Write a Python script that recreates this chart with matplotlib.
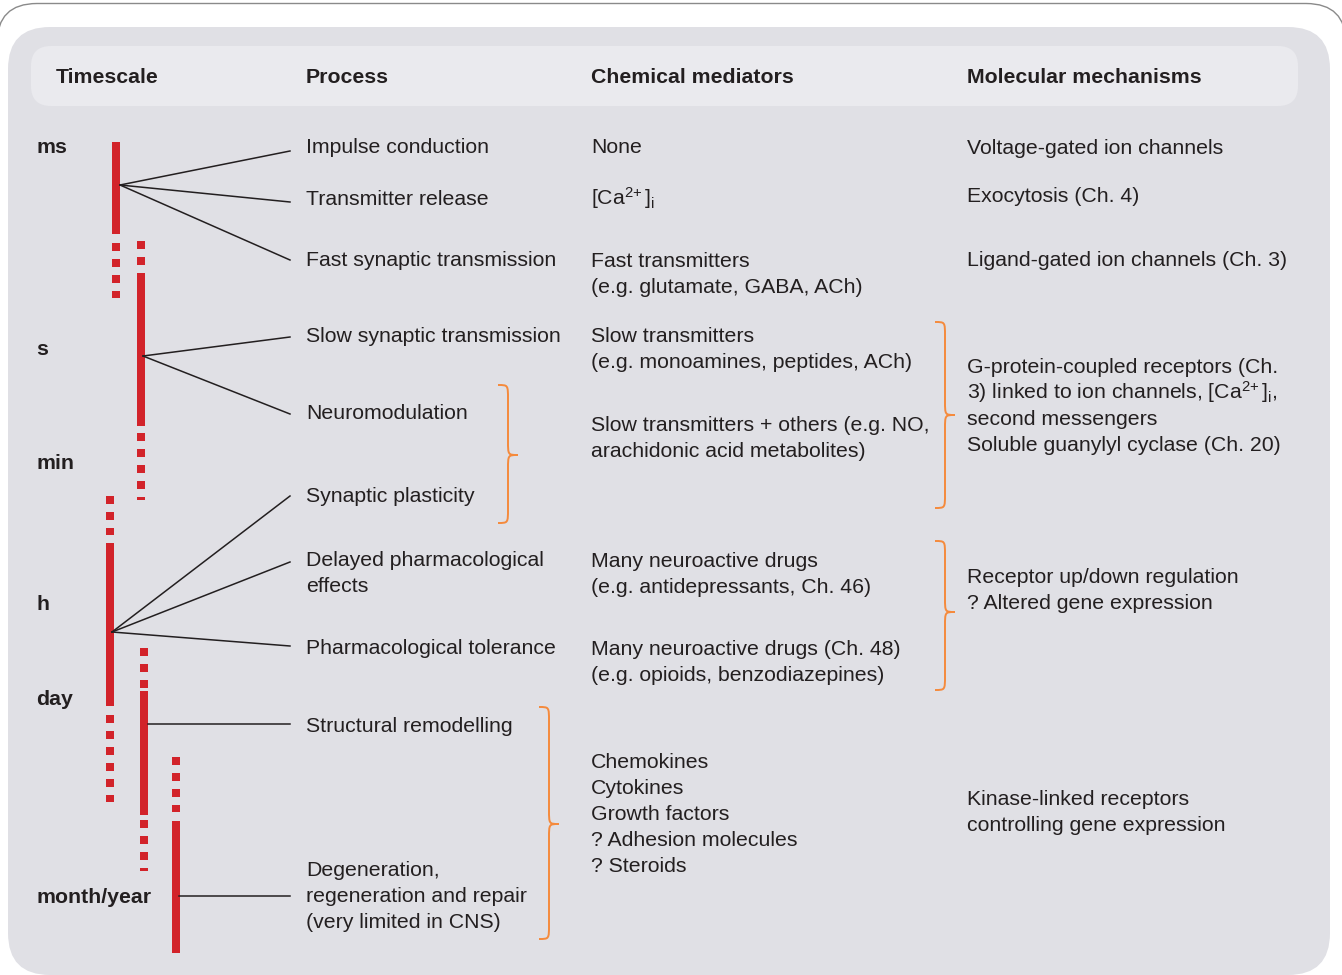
import matplotlib
matplotlib.use('Agg')
import matplotlib.pyplot as plt
from matplotlib.patches import FancyBboxPatch, PathPatch
from matplotlib.path import Path

plt.rcParams['font.family'] = ['Liberation Sans', 'DejaVu Sans']
plt.rcParams['mathtext.fontset'] = 'custom'
plt.rcParams['mathtext.rm'] = 'Liberation Sans'
plt.rcParams['mathtext.it'] = 'Liberation Sans:italic'
plt.rcParams['mathtext.bf'] = 'Liberation Sans:bold'
plt.rcParams['lines.scale_dashes'] = False

CA = r'[Ca$^{2\!+}$]$_\mathrm{i}$'

# ---- content ----
headers = ['Timescale', 'Process', 'Chemical mediators', 'Molecular mechanisms']
header_x = [56, 306, 591, 967]

timescales = ['ms', 's', 'min', 'h', 'day', 'month/year']
timescale_y = [146, 348, 462, 603, 698, 896]

processes = ['Impulse conduction', 'Transmitter release', 'Fast synaptic transmission',
             'Slow synaptic transmission', 'Neuromodulation', 'Synaptic plasticity',
             'Delayed pharmacological\neffects', 'Pharmacological tolerance',
             'Structural remodelling',
             'Degeneration,\nregeneration and repair\n(very limited in CNS)']
process_y = [146, 198, 259, 335, 412, 495, 559, 647, 725, 869]

mediators = ['None', CA, 'Fast transmitters\n(e.g. glutamate, GABA, ACh)',
             'Slow transmitters\n(e.g. monoamines, peptides, ACh)',
             'Slow transmitters + others (e.g. NO,\narachidonic acid metabolites)',
             'Many neuroactive drugs\n(e.g. antidepressants, Ch. 46)',
             'Many neuroactive drugs (Ch. 48)\n(e.g. opioids, benzodiazepines)',
             'Chemokines\nCytokines\nGrowth factors\n? Adhesion molecules\n? Steroids']
mediator_y = [146, 198, 260, 335, 424, 560, 648, 761]

mechanisms = ['Voltage-gated ion channels', 'Exocytosis (Ch. 4)',
              'Ligand-gated ion channels (Ch. 3)',
              'G-protein-coupled receptors (Ch.\n3) linked to ion channels, ' + CA +
              ',\nsecond messengers\nSoluble guanylyl cyclase (Ch. 20)',
              'Receptor up/down regulation\n? Altered gene expression',
              'Kinase-linked receptors\ncontrolling gene expression']
mechanism_y = [147, 195, 259, 366, 576, 798]

# timescale bars: x, dashed top, solid part, dashed bottom, hub of the fan, fan targets
bar_x = [116, 141, 110, 144, 176]
bar_dash_top = [None, (241, 265), (496, 535), (648, 688), (757, 812)]
bar_solid = [(142, 234), (273, 426), (543, 706), (691, 815), (821, 953)]
bar_dash_bottom = [(243, 298), (433, 500), (715, 802), (820, 871), None]
bar_hub = [(120, 185), (143, 356), (112, 632), (148, 724), (179, 896)]
bar_targets = [[151, 202, 260], [337, 414], [496, 562, 646], [724], [896]]
fan_end_x = 290

# curly braces: left x, top, bottom, tip
braces = [(498, 385, 523, 455), (935, 322, 508, 415),
          (935, 541, 690, 612), (539, 707, 939, 824)]

TXT = '#231f20'
RED = '#d2232a'
ORANGE = '#f58a3c'
FS = 15.3
LINE_GAP = 26
BASE = 6.8  # centre of capitals -> baseline

fig = plt.figure(figsize=(13.42, 9.75), dpi=100)
ax = fig.add_axes([0, 0, 1, 1])
ax.set_xlim(0, 1342)
ax.set_ylim(975, 0)
ax.axis('off')

# frames
ax.add_patch(FancyBboxPatch((-3, 3.5), 1349, 1100, boxstyle='round,pad=0,rounding_size=40',
                            fc='white', ec='#8a8a8a', lw=1))
ax.add_patch(FancyBboxPatch((8, 27), 1322, 948, boxstyle='round,pad=0,rounding_size=42',
                            fc='#e0e0e5', ec='none'))
ax.add_patch(FancyBboxPatch((31, 46), 1267, 60, boxstyle='round,pad=0,rounding_size=20',
                            fc='#eaeaee', ec='none'))

for h, x in zip(headers, header_x):
    ax.text(x, 76 + BASE, h, fontsize=FS, fontweight='bold', color=TXT, va='baseline')

for t, y in zip(timescales, timescale_y):
    ax.text(36, y + BASE, t, fontsize=FS, fontweight='bold', color=TXT, va='baseline')


def put_lines(x, y, s):
    for i, line in enumerate(s.split('\n')):
        ax.text(x, y + BASE + i * LINE_GAP, line, fontsize=FS, color=TXT, va='baseline')


for s, y in zip(processes, process_y):
    put_lines(306, y, s)
for s, y in zip(mediators, mediator_y):
    put_lines(591, y, s)
for s, y in zip(mechanisms, mechanism_y):
    put_lines(967, y, s)

# red bars
bw = 8 * 0.72
for i in range(len(bar_x)):
    x = bar_x[i]
    s0, s1 = bar_solid[i]
    ax.plot([x, x], [s0, s1], color=RED, lw=bw, solid_capstyle='butt')
    for seg in (bar_dash_top[i], bar_dash_bottom[i]):
        if seg is not None:
            ax.plot([x, x], [seg[0], seg[1]], color=RED, lw=bw, dash_capstyle='butt',
                    linestyle=(0, (8 * 0.72, 8 * 0.72)))
    hx, hy = bar_hub[i]
    for ty in bar_targets[i]:
        ax.plot([hx, fan_end_x], [hy, ty], color=TXT, lw=1.1)


def brace(x0, yt, yb, ytip, w=20, r=14):
    xm = x0 + w / 2
    verts = [(x0, yt), (xm, yt), (xm, yt), (xm, yt + r),
             (xm, ytip - r),
             (xm, ytip), (xm, ytip), (x0 + w, ytip),
             (xm, ytip), (xm, ytip), (xm, ytip + r),
             (xm, yb - r),
             (xm, yb), (xm, yb), (x0, yb)]
    codes = [Path.MOVETO, Path.CURVE4, Path.CURVE4, Path.CURVE4,
             Path.LINETO,
             Path.CURVE4, Path.CURVE4, Path.CURVE4,
             Path.CURVE4, Path.CURVE4, Path.CURVE4,
             Path.LINETO,
             Path.CURVE4, Path.CURVE4, Path.CURVE4]
    ax.add_patch(PathPatch(Path(verts, codes), fc='none', ec=ORANGE, lw=1.4))


for b in braces:
    brace(*b)

fig.savefig('out.png', dpi=100)
